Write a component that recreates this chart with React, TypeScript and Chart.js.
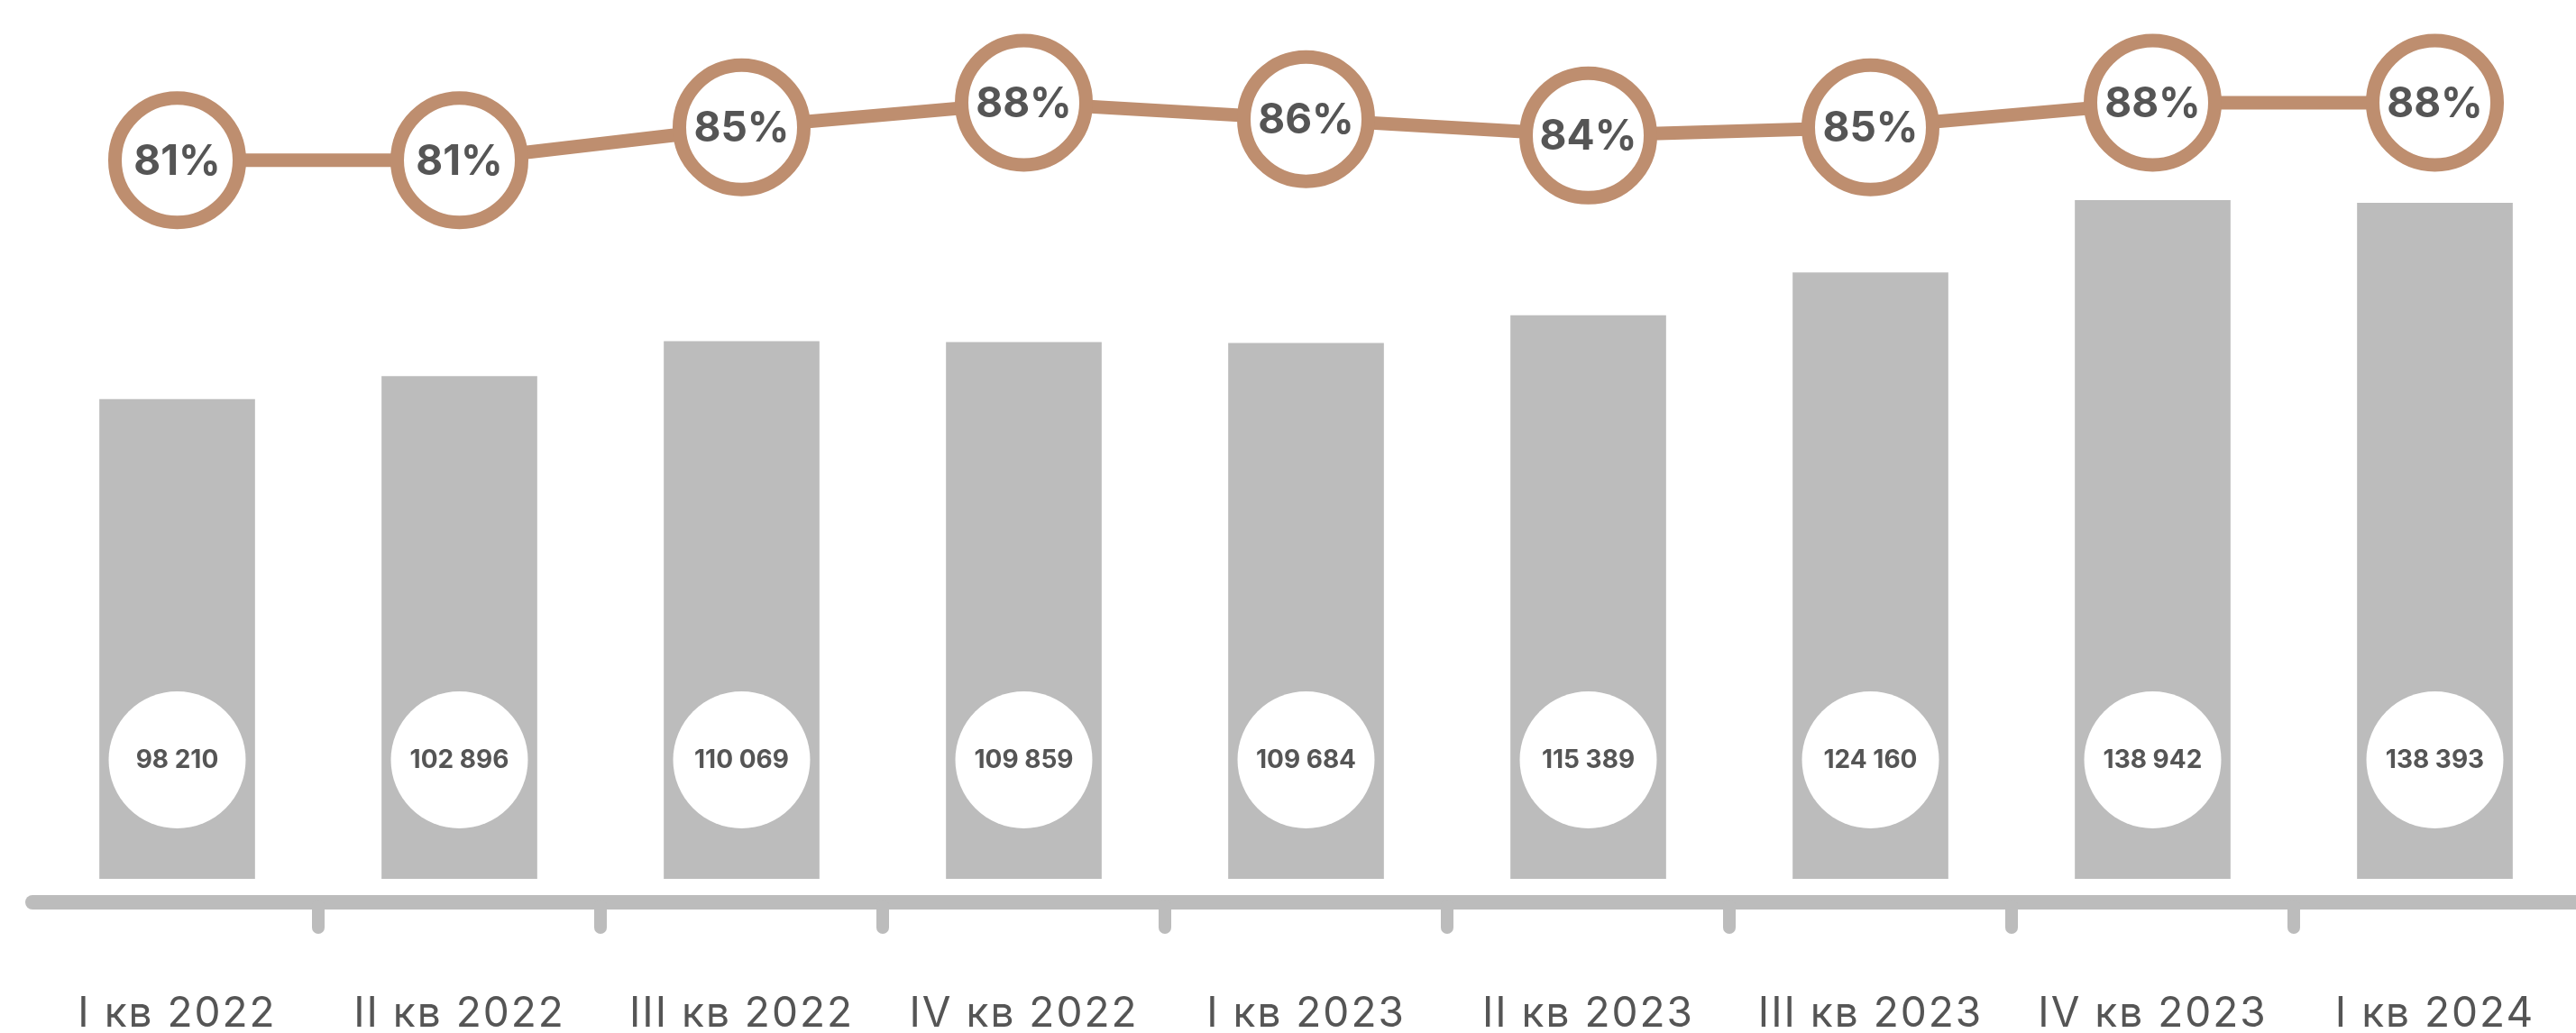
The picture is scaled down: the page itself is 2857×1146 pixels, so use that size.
import React, { useEffect, useRef } from "react";
import { Chart, registerables } from "chart.js";

Chart.register(...registerables);

const quarters = [
  "I кв 2022",
  "II кв 2022",
  "III кв 2022",
  "IV кв 2022",
  "I кв 2023",
  "II кв 2023",
  "III кв 2023",
  "IV кв 2023",
  "I кв 2024",
];
const volumes = [98210, 102896, 110069, 109859, 109684, 115389, 124160, 138942, 138393];
const shares = [81, 81, 85, 88, 86, 84, 85, 88, 88];

const W = 2857;
const H = 1146;
const BROWN = "#BE8E6F";
const GREY = "#BCBCBC";
const TEXT = "#555555";
const FONT = "Inter, 'Open Sans', sans-serif";

const fmt = (v: number) => String(v).replace(/\B(?=(\d{3})+(?!\d))/g, " ");

const spacing = {
  id: "spacing",
  beforeDraw(chart: any) {
    chart.ctx.letterSpacing = "2px";
  },
};

const decor = {
  id: "decor",
  afterDatasetsDraw(chart: any) {
    const { ctx, chartArea, scales } = chart;
    const x = scales.x;
    const base = chartArea.bottom;
    ctx.save();
    ctx.letterSpacing = "0px";
    // axis line
    ctx.strokeStyle = GREY;
    ctx.lineCap = "round";
    ctx.lineWidth = 16;
    ctx.beginPath();
    ctx.moveTo(36, base + 26);
    ctx.lineTo(W + 20, base + 26);
    ctx.stroke();
    // ticks between categories
    ctx.lineWidth = 14;
    for (let i = 0; i < quarters.length - 1; i++) {
      const px = (x.getPixelForValue(i) + x.getPixelForValue(i + 1)) / 2;
      ctx.beginPath();
      ctx.moveTo(px, base + 30);
      ctx.lineTo(px, base + 54);
      ctx.stroke();
    }
    // value circles inside bars
    const barMeta = chart.getDatasetMeta(1);
    ctx.textAlign = "center";
    ctx.textBaseline = "middle";
    barMeta.data.forEach((el: any, i: number) => {
      const cy = base - 132;
      ctx.fillStyle = "#ffffff";
      ctx.beginPath();
      ctx.arc(el.x, cy, 76, 0, Math.PI * 2);
      ctx.fill();
      ctx.fillStyle = TEXT;
      ctx.font = `700 28px ${FONT}`;
      ctx.fillText(fmt(volumes[i]), el.x, cy + 1);
    });
    // percentage labels
    const lineMeta = chart.getDatasetMeta(0);
    ctx.font = `700 46px ${FONT}`;
    ctx.fillStyle = TEXT;
    lineMeta.data.forEach((el: any, i: number) => {
      ctx.fillText(`${shares[i]}%`, el.x, el.y + 2);
    });
    ctx.restore();
  },
};

export default function App() {
  const ref = useRef<HTMLCanvasElement | null>(null);
  useEffect(() => {
    if (!ref.current) return;
    const chart = new Chart(ref.current, {
      type: "bar",
      data: {
        labels: quarters,
        datasets: [
          {
            type: "line",
            data: shares,
            yAxisID: "y1",
            order: 0,
            borderColor: BROWN,
            borderWidth: 15,
            pointRadius: 69,
            pointHoverRadius: 69,
            pointBorderWidth: 15,
            pointBackgroundColor: "#ffffff",
            pointBorderColor: BROWN,
            tension: 0,
            clip: false as any,
          } as any,
          {
            type: "bar",
            data: volumes,
            yAxisID: "y",
            order: 1,
            backgroundColor: GREY,
            barThickness: 172,
          },
        ],
      },
      plugins: [spacing, decor],
      options: {
        responsive: false,
        animation: false,
        events: [],
        layout: { autoPadding: false, padding: { left: 40, right: 0, top: 0, bottom: 0 } } as any,
        plugins: { legend: { display: false }, tooltip: { enabled: false } },
        scales: {
          x: {
            offset: true,
            grid: { display: false, drawTicks: false },
            border: { display: false },
            ticks: {
              color: TEXT,
              font: { family: FONT, size: 46, weight: 400 as any },
              padding: 123,
              maxRotation: 0,
              autoSkip: false,
            },
            afterFit(scale: any) {
              scale.height = 171;
              scale.paddingLeft = 0;
              scale.paddingRight = 0;
            },
          },
          y: { display: false, min: 0, max: 180000 },
          y1: { display: false, min: -6.5, max: 100.5 },
        },
      },
    });
    return () => chart.destroy();
  }, []);
  return (
    <div style={{ position: "fixed", left: 0, top: 0, width: W, height: H, background: "#fff" }}>
      <canvas ref={ref} width={W} height={H} style={{ width: W, height: H, display: "block" }} />
    </div>
  );
}
